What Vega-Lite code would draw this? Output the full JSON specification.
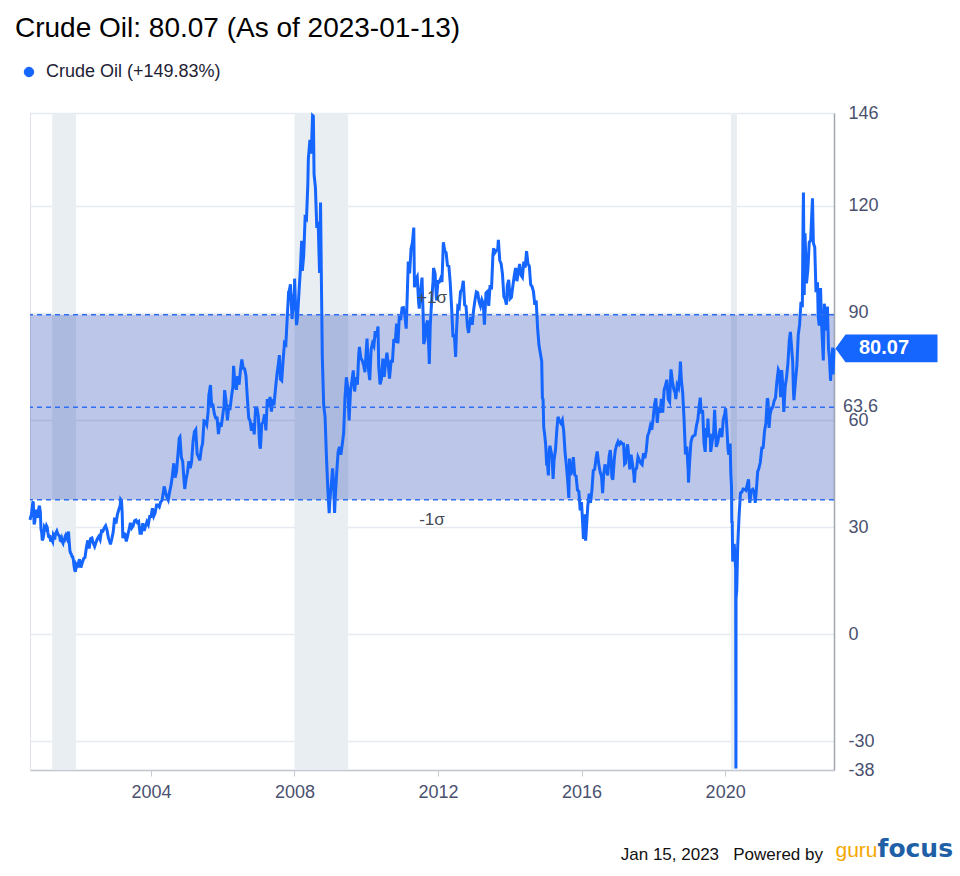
{
  "$schema": "https://vega.github.io/schema/vega-lite/v6.json",
  "width": 804,
  "height": 657,
  "autosize": {"type": "none"},
  "padding": {"left": 30, "top": 113, "right": 126, "bottom": 106},
  "background": "white",
  "title": {
    "text": "Crude Oil: 80.07 (As of 2023-01-13)",
    "anchor": "start",
    "frame": "group",
    "font": "Liberation Sans",
    "fontSize": 28,
    "fontWeight": "normal",
    "color": "#000000",
    "offset": 20,
    "dx": -15
  },
  "config": {
    "font": "Liberation Sans",
    "view": {"stroke": "#dfe3ea", "strokeWidth": 1}
  },
  "datasets": {
    "recessions": [
      {"start": "2001-04-01", "end": "2001-11-30"},
      {"start": "2008-01-01", "end": "2009-06-30"},
      {"start": "2020-03-01", "end": "2020-04-30"}
    ],
    "stats": [
      {"asof": "2023-01-13", "last": 80.07, "lower": 37.7, "mean": 63.6, "upper": 89.5, "meanLabel": "63.6", "lastLabel": "80.07"}
    ],
    "oil": [
      {"date":"2000-08-18","price":32.05},{"date":"2000-08-25","price":32.9},{"date":"2000-09-01","price":33.4},{"date":"2000-09-08","price":35.1},{"date":"2000-09-15","price":36.9},{"date":"2000-09-20","price":37.2},{"date":"2000-09-29","price":30.8},{"date":"2000-10-06","price":31.5},{"date":"2000-10-13","price":34.9},{"date":"2000-10-20","price":33.0},{"date":"2000-10-27","price":33.2},{"date":"2000-11-03","price":32.6},{"date":"2000-11-10","price":34.4},{"date":"2000-11-17","price":35.5},{"date":"2000-11-22","price":36.0},{"date":"2000-12-01","price":34.3},{"date":"2000-12-08","price":29.5},{"date":"2000-12-15","price":28.5},{"date":"2000-12-21","price":26.3},{"date":"2000-12-29","price":26.8},
      {"date":"2001-01-05","price":27.9},{"date":"2001-01-12","price":30.1},{"date":"2001-01-19","price":29.8},{"date":"2001-01-26","price":29.5},{"date":"2001-02-02","price":30.4},{"date":"2001-02-09","price":30.0},{"date":"2001-02-16","price":28.5},{"date":"2001-02-23","price":27.4},{"date":"2001-03-02","price":27.2},{"date":"2001-03-09","price":27.8},{"date":"2001-03-16","price":26.0},{"date":"2001-03-23","price":26.5},{"date":"2001-03-30","price":26.3},{"date":"2001-04-06","price":25.9},{"date":"2001-04-13","price":27.8},{"date":"2001-04-20","price":27.4},{"date":"2001-04-27","price":26.5},{"date":"2001-05-04","price":28.2},{"date":"2001-05-11","price":28.5},{"date":"2001-05-18","price":28.9},{"date":"2001-05-25","price":28.3},{"date":"2001-06-01","price":27.9},{"date":"2001-06-08","price":27.7},{"date":"2001-06-15","price":27.5},{"date":"2001-06-22","price":26.3},{"date":"2001-06-29","price":26.2},{"date":"2001-07-06","price":26.8},{"date":"2001-07-13","price":25.9},{"date":"2001-07-20","price":25.5},{"date":"2001-07-27","price":26.4},{"date":"2001-08-03","price":26.3},{"date":"2001-08-10","price":27.4},{"date":"2001-08-17","price":27.8},{"date":"2001-08-24","price":27.3},{"date":"2001-08-31","price":26.8},{"date":"2001-09-07","price":27.6},{"date":"2001-09-14","price":28.8},{"date":"2001-09-21","price":26.0},{"date":"2001-09-28","price":23.4},{"date":"2001-10-05","price":22.7},{"date":"2001-10-12","price":22.5},{"date":"2001-10-19","price":21.8},{"date":"2001-10-26","price":21.7},{"date":"2001-11-02","price":20.9},{"date":"2001-11-09","price":19.2},{"date":"2001-11-16","price":18.0},{"date":"2001-11-23","price":17.5},{"date":"2001-11-30","price":19.4},{"date":"2001-12-07","price":19.0},{"date":"2001-12-14","price":19.5},{"date":"2001-12-21","price":19.3},{"date":"2001-12-28","price":20.4},
      {"date":"2002-01-04","price":21.0},{"date":"2002-01-18","price":18.7},{"date":"2002-02-01","price":20.0},{"date":"2002-02-15","price":21.2},{"date":"2002-03-01","price":21.6},{"date":"2002-03-15","price":24.3},{"date":"2002-03-29","price":26.3},{"date":"2002-04-12","price":24.0},{"date":"2002-04-26","price":26.8},{"date":"2002-05-10","price":27.0},{"date":"2002-05-24","price":25.5},{"date":"2002-06-07","price":24.6},{"date":"2002-06-21","price":25.8},{"date":"2002-07-05","price":26.8},{"date":"2002-07-19","price":27.4},{"date":"2002-08-02","price":26.5},{"date":"2002-08-16","price":29.0},{"date":"2002-08-30","price":28.9},{"date":"2002-09-13","price":29.8},{"date":"2002-09-27","price":30.4},{"date":"2002-10-11","price":29.2},{"date":"2002-10-25","price":27.0},{"date":"2002-11-08","price":25.9},{"date":"2002-11-15","price":25.2},{"date":"2002-11-29","price":26.8},{"date":"2002-12-13","price":28.7},{"date":"2002-12-27","price":32.7},
      {"date":"2003-01-10","price":31.0},{"date":"2003-01-24","price":33.5},{"date":"2003-02-07","price":34.8},{"date":"2003-02-21","price":36.0},{"date":"2003-02-27","price":37.8},{"date":"2003-03-07","price":37.5},{"date":"2003-03-14","price":34.2},{"date":"2003-03-21","price":26.9},{"date":"2003-03-28","price":28.3},{"date":"2003-04-11","price":28.1},{"date":"2003-04-25","price":26.0},{"date":"2003-05-09","price":27.6},{"date":"2003-05-23","price":29.3},{"date":"2003-06-06","price":31.2},{"date":"2003-06-20","price":29.8},{"date":"2003-07-04","price":30.4},{"date":"2003-07-18","price":31.8},{"date":"2003-08-01","price":32.0},{"date":"2003-08-15","price":31.3},{"date":"2003-08-29","price":31.6},{"date":"2003-09-12","price":28.3},{"date":"2003-09-26","price":28.3},{"date":"2003-10-10","price":31.1},{"date":"2003-10-24","price":29.0},{"date":"2003-11-07","price":30.3},{"date":"2003-11-21","price":31.5},{"date":"2003-12-05","price":30.7},{"date":"2003-12-19","price":33.0},
      {"date":"2004-01-02","price":33.0},{"date":"2004-01-16","price":35.3},{"date":"2004-01-30","price":33.1},{"date":"2004-02-13","price":34.0},{"date":"2004-02-27","price":36.2},{"date":"2004-03-12","price":36.2},{"date":"2004-03-26","price":35.7},{"date":"2004-04-09","price":37.1},{"date":"2004-04-23","price":37.5},{"date":"2004-05-07","price":39.9},{"date":"2004-05-14","price":41.4},{"date":"2004-05-28","price":39.9},{"date":"2004-06-11","price":38.4},{"date":"2004-06-25","price":37.6},{"date":"2004-07-09","price":39.9},{"date":"2004-07-23","price":41.7},{"date":"2004-08-06","price":44.4},{"date":"2004-08-20","price":47.9},{"date":"2004-09-03","price":43.9},{"date":"2004-09-17","price":45.6},{"date":"2004-10-01","price":50.1},{"date":"2004-10-15","price":54.9},{"date":"2004-10-22","price":55.2},{"date":"2004-11-05","price":49.6},{"date":"2004-11-19","price":48.4},{"date":"2004-12-03","price":43.0},{"date":"2004-12-10","price":40.7},{"date":"2004-12-24","price":43.5},
      {"date":"2005-01-07","price":45.4},{"date":"2005-01-21","price":48.5},{"date":"2005-02-04","price":46.5},{"date":"2005-02-18","price":48.4},{"date":"2005-03-04","price":53.8},{"date":"2005-03-18","price":56.7},{"date":"2005-04-01","price":57.3},{"date":"2005-04-15","price":50.5},{"date":"2005-04-29","price":49.7},{"date":"2005-05-13","price":48.7},{"date":"2005-05-27","price":51.9},{"date":"2005-06-10","price":53.5},{"date":"2005-06-24","price":59.8},{"date":"2005-07-08","price":59.6},{"date":"2005-07-22","price":58.7},{"date":"2005-08-05","price":62.3},{"date":"2005-08-12","price":66.9},{"date":"2005-08-29","price":69.8},{"date":"2005-09-09","price":64.1},{"date":"2005-09-23","price":64.2},{"date":"2005-10-07","price":61.8},{"date":"2005-10-21","price":60.6},{"date":"2005-11-04","price":60.6},{"date":"2005-11-18","price":56.1},{"date":"2005-12-02","price":59.3},{"date":"2005-12-16","price":58.1},{"date":"2005-12-30","price":61.0},
      {"date":"2006-01-13","price":63.9},{"date":"2006-01-20","price":68.4},{"date":"2006-02-03","price":65.4},{"date":"2006-02-17","price":59.9},{"date":"2006-03-03","price":63.7},{"date":"2006-03-17","price":63.4},{"date":"2006-03-31","price":66.6},{"date":"2006-04-14","price":69.3},{"date":"2006-04-21","price":75.2},{"date":"2006-05-05","price":70.2},{"date":"2006-05-19","price":68.5},{"date":"2006-06-02","price":72.3},{"date":"2006-06-16","price":69.9},{"date":"2006-06-30","price":74.0},{"date":"2006-07-14","price":77.0},{"date":"2006-07-28","price":74.5},{"date":"2006-08-11","price":74.4},{"date":"2006-08-25","price":72.5},{"date":"2006-09-08","price":66.3},{"date":"2006-09-22","price":60.6},{"date":"2006-10-06","price":59.8},{"date":"2006-10-20","price":57.0},{"date":"2006-11-03","price":59.1},{"date":"2006-11-17","price":56.0},{"date":"2006-12-01","price":63.4},{"date":"2006-12-15","price":63.4},{"date":"2006-12-29","price":61.0},
      {"date":"2007-01-05","price":56.3},{"date":"2007-01-12","price":52.9},{"date":"2007-01-19","price":52.0},{"date":"2007-02-02","price":59.0},{"date":"2007-02-16","price":59.4},{"date":"2007-03-02","price":61.6},{"date":"2007-03-16","price":57.1},{"date":"2007-03-30","price":65.9},{"date":"2007-04-13","price":63.6},{"date":"2007-04-27","price":66.5},{"date":"2007-05-11","price":62.4},{"date":"2007-05-25","price":65.2},{"date":"2007-06-08","price":64.8},{"date":"2007-06-22","price":68.9},{"date":"2007-07-06","price":72.8},{"date":"2007-07-20","price":75.6},{"date":"2007-07-31","price":78.2},{"date":"2007-08-10","price":71.5},{"date":"2007-08-24","price":71.1},{"date":"2007-09-07","price":76.7},{"date":"2007-09-21","price":81.6},{"date":"2007-10-05","price":81.2},{"date":"2007-10-19","price":88.6},{"date":"2007-11-02","price":95.9},{"date":"2007-11-09","price":96.3},{"date":"2007-11-21","price":98.0},{"date":"2007-12-07","price":88.3},{"date":"2007-12-21","price":93.3},{"date":"2007-12-31","price":96.0},
      {"date":"2008-01-02","price":99.6},{"date":"2008-01-11","price":92.7},{"date":"2008-01-22","price":86.6},{"date":"2008-02-01","price":88.9},{"date":"2008-02-15","price":95.5},{"date":"2008-02-29","price":101.8},{"date":"2008-03-14","price":110.2},{"date":"2008-03-21","price":101.8},{"date":"2008-04-04","price":106.2},{"date":"2008-04-18","price":116.7},{"date":"2008-05-02","price":116.3},{"date":"2008-05-16","price":126.3},{"date":"2008-05-21","price":133.2},{"date":"2008-06-06","price":138.5},{"date":"2008-06-20","price":134.6},{"date":"2008-07-03","price":145.3},{"date":"2008-07-11","price":145.1},{"date":"2008-07-18","price":128.9},{"date":"2008-08-01","price":125.1},{"date":"2008-08-15","price":113.8},{"date":"2008-08-29","price":115.5},{"date":"2008-09-12","price":101.2},{"date":"2008-09-22","price":120.9},{"date":"2008-10-03","price":93.9},{"date":"2008-10-10","price":77.7},{"date":"2008-10-24","price":64.2},{"date":"2008-11-07","price":61.0},{"date":"2008-11-21","price":49.9},{"date":"2008-12-05","price":40.8},{"date":"2008-12-19","price":33.9},{"date":"2008-12-26","price":37.7},
      {"date":"2009-01-09","price":41.7},{"date":"2009-01-23","price":46.5},{"date":"2009-02-06","price":40.2},{"date":"2009-02-12","price":34.0},{"date":"2009-02-20","price":38.9},{"date":"2009-03-06","price":45.5},{"date":"2009-03-20","price":51.1},{"date":"2009-04-03","price":52.5},{"date":"2009-04-17","price":50.3},{"date":"2009-05-01","price":53.2},{"date":"2009-05-15","price":56.3},{"date":"2009-05-29","price":66.3},{"date":"2009-06-12","price":72.0},{"date":"2009-06-26","price":69.2},{"date":"2009-07-10","price":59.9},{"date":"2009-07-24","price":68.1},{"date":"2009-08-07","price":70.9},{"date":"2009-08-21","price":73.9},{"date":"2009-09-04","price":68.0},{"date":"2009-09-18","price":72.0},{"date":"2009-10-02","price":69.9},{"date":"2009-10-16","price":78.5},{"date":"2009-10-23","price":80.5},{"date":"2009-11-06","price":77.4},{"date":"2009-11-20","price":76.7},{"date":"2009-12-04","price":75.5},{"date":"2009-12-18","price":73.4},{"date":"2009-12-31","price":79.4},
      {"date":"2010-01-08","price":82.8},{"date":"2010-01-22","price":74.5},{"date":"2010-02-05","price":71.2},{"date":"2010-02-19","price":79.8},{"date":"2010-03-05","price":81.5},{"date":"2010-03-19","price":80.7},{"date":"2010-04-02","price":84.9},{"date":"2010-04-16","price":83.2},{"date":"2010-04-30","price":86.2},{"date":"2010-05-07","price":75.1},{"date":"2010-05-21","price":70.0},{"date":"2010-06-04","price":71.5},{"date":"2010-06-18","price":77.2},{"date":"2010-07-02","price":72.1},{"date":"2010-07-16","price":76.0},{"date":"2010-07-30","price":78.9},{"date":"2010-08-13","price":75.4},{"date":"2010-08-25","price":71.6},{"date":"2010-09-10","price":76.5},{"date":"2010-09-24","price":76.5},{"date":"2010-10-08","price":82.7},{"date":"2010-10-22","price":81.7},{"date":"2010-11-05","price":87.0},{"date":"2010-11-19","price":81.5},{"date":"2010-12-03","price":89.2},{"date":"2010-12-17","price":88.0},{"date":"2010-12-31","price":91.4},
      {"date":"2011-01-14","price":91.5},{"date":"2011-01-28","price":89.3},{"date":"2011-02-11","price":85.6},{"date":"2011-02-25","price":98.0},{"date":"2011-03-04","price":104.4},{"date":"2011-03-18","price":101.1},{"date":"2011-04-01","price":107.9},{"date":"2011-04-15","price":109.7},{"date":"2011-04-29","price":113.9},{"date":"2011-05-06","price":97.2},{"date":"2011-05-20","price":99.5},{"date":"2011-06-03","price":100.2},{"date":"2011-06-17","price":93.0},{"date":"2011-06-24","price":91.2},{"date":"2011-07-08","price":96.2},{"date":"2011-07-22","price":99.9},{"date":"2011-08-05","price":86.9},{"date":"2011-08-08","price":81.3},{"date":"2011-08-19","price":82.3},{"date":"2011-09-02","price":86.5},{"date":"2011-09-16","price":87.9},{"date":"2011-09-30","price":79.2},{"date":"2011-10-04","price":75.7},{"date":"2011-10-14","price":86.8},{"date":"2011-10-28","price":93.3},{"date":"2011-11-11","price":98.9},{"date":"2011-11-16","price":102.6},{"date":"2011-12-02","price":101.0},{"date":"2011-12-16","price":93.5},{"date":"2011-12-30","price":98.8},
      {"date":"2012-01-13","price":98.7},{"date":"2012-01-27","price":99.6},{"date":"2012-02-10","price":98.7},{"date":"2012-02-24","price":109.8},{"date":"2012-03-09","price":107.4},{"date":"2012-03-23","price":106.9},{"date":"2012-04-06","price":103.3},{"date":"2012-04-20","price":103.1},{"date":"2012-05-04","price":98.5},{"date":"2012-05-18","price":91.5},{"date":"2012-06-01","price":83.2},{"date":"2012-06-15","price":84.0},{"date":"2012-06-28","price":77.7},{"date":"2012-07-06","price":84.5},{"date":"2012-07-20","price":91.8},{"date":"2012-08-03","price":91.4},{"date":"2012-08-17","price":96.0},{"date":"2012-08-31","price":96.5},{"date":"2012-09-14","price":99.0},{"date":"2012-09-28","price":92.2},{"date":"2012-10-12","price":91.9},{"date":"2012-10-26","price":86.3},{"date":"2012-11-07","price":84.4},{"date":"2012-11-16","price":86.7},{"date":"2012-11-30","price":88.9},{"date":"2012-12-14","price":86.7},{"date":"2012-12-28","price":90.8},
      {"date":"2013-01-11","price":93.6},{"date":"2013-01-25","price":95.9},{"date":"2013-02-08","price":95.7},{"date":"2013-02-22","price":93.1},{"date":"2013-03-08","price":91.9},{"date":"2013-03-22","price":93.7},{"date":"2013-04-05","price":92.7},{"date":"2013-04-17","price":86.7},{"date":"2013-05-03","price":95.6},{"date":"2013-05-17","price":96.0},{"date":"2013-05-31","price":92.0},{"date":"2013-06-14","price":97.8},{"date":"2013-06-28","price":96.6},{"date":"2013-07-12","price":106.0},{"date":"2013-07-19","price":108.1},{"date":"2013-08-02","price":106.9},{"date":"2013-08-16","price":107.5},{"date":"2013-08-30","price":107.7},{"date":"2013-09-06","price":110.5},{"date":"2013-09-20","price":104.7},{"date":"2013-10-04","price":103.8},{"date":"2013-10-18","price":100.8},{"date":"2013-11-01","price":94.6},{"date":"2013-11-15","price":93.8},{"date":"2013-11-27","price":92.3},{"date":"2013-12-06","price":97.7},{"date":"2013-12-20","price":99.3},
      {"date":"2014-01-03","price":94.0},{"date":"2014-01-17","price":94.4},{"date":"2014-01-31","price":97.5},{"date":"2014-02-14","price":100.3},{"date":"2014-02-28","price":102.6},{"date":"2014-03-14","price":98.9},{"date":"2014-03-28","price":101.7},{"date":"2014-04-11","price":103.7},{"date":"2014-04-25","price":100.6},{"date":"2014-05-09","price":100.0},{"date":"2014-05-23","price":104.4},{"date":"2014-06-06","price":102.7},{"date":"2014-06-20","price":107.3},{"date":"2014-07-04","price":103.8},{"date":"2014-07-18","price":103.1},{"date":"2014-08-01","price":97.9},{"date":"2014-08-15","price":97.4},{"date":"2014-08-29","price":96.0},{"date":"2014-09-12","price":92.3},{"date":"2014-09-26","price":93.5},{"date":"2014-10-10","price":85.8},{"date":"2014-10-24","price":81.0},{"date":"2014-11-07","price":78.7},{"date":"2014-11-21","price":76.5},{"date":"2014-11-28","price":66.2},{"date":"2014-12-05","price":65.8},{"date":"2014-12-12","price":57.8},{"date":"2014-12-19","price":56.5},{"date":"2014-12-31","price":53.3},
      {"date":"2015-01-09","price":48.4},{"date":"2015-01-16","price":48.7},{"date":"2015-01-28","price":44.5},{"date":"2015-02-06","price":51.7},{"date":"2015-02-13","price":52.8},{"date":"2015-03-06","price":49.8},{"date":"2015-03-17","price":43.5},{"date":"2015-03-27","price":48.9},{"date":"2015-04-10","price":51.6},{"date":"2015-04-24","price":57.2},{"date":"2015-05-06","price":60.9},{"date":"2015-05-22","price":59.7},{"date":"2015-06-05","price":59.1},{"date":"2015-06-19","price":60.0},{"date":"2015-07-03","price":56.9},{"date":"2015-07-17","price":50.9},{"date":"2015-07-31","price":47.1},{"date":"2015-08-14","price":42.5},{"date":"2015-08-24","price":38.2},{"date":"2015-08-31","price":49.2},{"date":"2015-09-11","price":44.6},{"date":"2015-09-25","price":45.7},{"date":"2015-10-09","price":49.6},{"date":"2015-10-23","price":44.6},{"date":"2015-11-06","price":44.3},{"date":"2015-11-20","price":40.4},{"date":"2015-12-04","price":40.0},{"date":"2015-12-18","price":34.7},{"date":"2015-12-31","price":37.0},
      {"date":"2016-01-08","price":33.2},{"date":"2016-01-20","price":26.7},{"date":"2016-01-29","price":33.6},{"date":"2016-02-11","price":26.2},{"date":"2016-02-19","price":29.6},{"date":"2016-03-04","price":35.9},{"date":"2016-03-18","price":39.4},{"date":"2016-04-01","price":36.8},{"date":"2016-04-15","price":40.4},{"date":"2016-04-29","price":45.9},{"date":"2016-05-13","price":46.2},{"date":"2016-05-27","price":49.3},{"date":"2016-06-08","price":51.2},{"date":"2016-06-24","price":47.6},{"date":"2016-07-08","price":45.4},{"date":"2016-07-22","price":44.2},{"date":"2016-08-02","price":39.5},{"date":"2016-08-12","price":44.5},{"date":"2016-08-26","price":47.6},{"date":"2016-09-09","price":45.9},{"date":"2016-09-23","price":44.5},{"date":"2016-10-07","price":49.8},{"date":"2016-10-19","price":51.6},{"date":"2016-10-28","price":48.7},{"date":"2016-11-04","price":44.1},{"date":"2016-11-14","price":43.3},{"date":"2016-11-30","price":49.4},{"date":"2016-12-09","price":51.5},{"date":"2016-12-23","price":53.0},
      {"date":"2017-01-06","price":54.0},{"date":"2017-01-20","price":53.2},{"date":"2017-02-03","price":53.8},{"date":"2017-02-17","price":53.4},{"date":"2017-03-03","price":53.3},{"date":"2017-03-14","price":47.7},{"date":"2017-03-24","price":48.0},{"date":"2017-04-07","price":52.2},{"date":"2017-04-13","price":53.2},{"date":"2017-04-28","price":49.3},{"date":"2017-05-05","price":46.2},{"date":"2017-05-19","price":50.3},{"date":"2017-06-02","price":47.7},{"date":"2017-06-16","price":44.7},{"date":"2017-06-21","price":42.5},{"date":"2017-06-30","price":46.0},{"date":"2017-07-14","price":46.5},{"date":"2017-07-28","price":49.7},{"date":"2017-08-11","price":48.8},{"date":"2017-08-25","price":47.9},{"date":"2017-09-08","price":47.5},{"date":"2017-09-22","price":50.7},{"date":"2017-10-06","price":49.3},{"date":"2017-10-20","price":51.5},{"date":"2017-11-03","price":55.6},{"date":"2017-11-17","price":56.6},{"date":"2017-12-01","price":58.4},{"date":"2017-12-15","price":57.3},{"date":"2017-12-29","price":60.4},
      {"date":"2018-01-12","price":64.3},{"date":"2018-01-26","price":66.1},{"date":"2018-02-09","price":59.2},{"date":"2018-02-23","price":63.6},{"date":"2018-03-09","price":62.0},{"date":"2018-03-23","price":65.9},{"date":"2018-04-06","price":62.1},{"date":"2018-04-20","price":68.4},{"date":"2018-05-04","price":69.7},{"date":"2018-05-18","price":71.3},{"date":"2018-06-01","price":65.8},{"date":"2018-06-15","price":65.1},{"date":"2018-06-29","price":74.2},{"date":"2018-07-13","price":71.0},{"date":"2018-07-27","price":68.7},{"date":"2018-08-10","price":67.6},{"date":"2018-08-17","price":65.9},{"date":"2018-08-31","price":69.8},{"date":"2018-09-14","price":69.0},{"date":"2018-09-28","price":73.3},{"date":"2018-10-03","price":76.4},{"date":"2018-10-12","price":71.3},{"date":"2018-10-26","price":67.6},{"date":"2018-11-09","price":60.2},{"date":"2018-11-23","price":50.4},{"date":"2018-12-07","price":52.6},{"date":"2018-12-21","price":45.6},{"date":"2018-12-24","price":42.5},
      {"date":"2019-01-04","price":48.0},{"date":"2019-01-18","price":53.8},{"date":"2019-02-01","price":55.3},{"date":"2019-02-15","price":55.6},{"date":"2019-03-01","price":55.8},{"date":"2019-03-15","price":58.5},{"date":"2019-03-29","price":60.1},{"date":"2019-04-12","price":63.9},{"date":"2019-04-23","price":66.3},{"date":"2019-05-03","price":61.9},{"date":"2019-05-17","price":62.8},{"date":"2019-05-31","price":53.5},{"date":"2019-06-12","price":51.1},{"date":"2019-06-21","price":57.4},{"date":"2019-07-05","price":57.5},{"date":"2019-07-10","price":60.4},{"date":"2019-07-19","price":55.6},{"date":"2019-08-02","price":55.7},{"date":"2019-08-07","price":51.1},{"date":"2019-08-23","price":54.2},{"date":"2019-09-06","price":56.5},{"date":"2019-09-16","price":62.9},{"date":"2019-09-27","price":55.9},{"date":"2019-10-03","price":52.5},{"date":"2019-10-18","price":53.8},{"date":"2019-11-01","price":56.2},{"date":"2019-11-15","price":57.7},{"date":"2019-11-29","price":55.2},{"date":"2019-12-13","price":60.1},{"date":"2019-12-27","price":61.7},
      {"date":"2020-01-06","price":63.3},{"date":"2020-01-17","price":58.5},{"date":"2020-01-31","price":51.6},{"date":"2020-02-07","price":50.3},{"date":"2020-02-21","price":53.4},{"date":"2020-02-28","price":44.8},{"date":"2020-03-06","price":41.3},{"date":"2020-03-09","price":31.1},{"date":"2020-03-13","price":31.7},{"date":"2020-03-18","price":20.4},{"date":"2020-03-27","price":21.5},{"date":"2020-04-02","price":25.3},{"date":"2020-04-09","price":22.8},{"date":"2020-04-17","price":18.3},{"date":"2020-04-20","price":-37.6},{"date":"2020-04-21","price":10.0},{"date":"2020-04-28","price":12.3},{"date":"2020-05-08","price":24.7},{"date":"2020-05-22","price":33.3},{"date":"2020-06-05","price":39.6},{"date":"2020-06-19","price":39.8},{"date":"2020-07-02","price":40.7},{"date":"2020-07-17","price":40.6},{"date":"2020-07-31","price":40.3},{"date":"2020-08-14","price":42.0},{"date":"2020-08-26","price":43.4},{"date":"2020-09-08","price":36.8},{"date":"2020-09-25","price":40.3},{"date":"2020-10-09","price":40.6},{"date":"2020-10-23","price":39.9},{"date":"2020-11-02","price":36.8},{"date":"2020-11-13","price":40.1},{"date":"2020-11-27","price":45.5},{"date":"2020-12-11","price":46.6},{"date":"2020-12-24","price":48.2},
      {"date":"2021-01-08","price":52.2},{"date":"2021-01-22","price":52.3},{"date":"2021-02-05","price":56.9},{"date":"2021-02-19","price":59.2},{"date":"2021-03-05","price":66.1},{"date":"2021-03-12","price":65.6},{"date":"2021-03-23","price":57.8},{"date":"2021-04-02","price":61.5},{"date":"2021-04-16","price":63.1},{"date":"2021-04-30","price":63.6},{"date":"2021-05-14","price":65.4},{"date":"2021-05-28","price":66.3},{"date":"2021-06-11","price":70.9},{"date":"2021-06-25","price":74.1},{"date":"2021-07-06","price":73.4},{"date":"2021-07-19","price":66.4},{"date":"2021-07-30","price":74.0},{"date":"2021-08-13","price":68.4},{"date":"2021-08-20","price":62.3},{"date":"2021-09-03","price":69.3},{"date":"2021-09-17","price":72.0},{"date":"2021-10-01","price":75.9},{"date":"2021-10-15","price":82.3},{"date":"2021-10-26","price":84.7},{"date":"2021-11-05","price":81.3},{"date":"2021-11-19","price":76.1},{"date":"2021-11-26","price":68.2},{"date":"2021-12-01","price":65.6},{"date":"2021-12-17","price":70.9},{"date":"2021-12-31","price":75.2},
      {"date":"2022-01-14","price":83.8},{"date":"2022-01-28","price":86.8},{"date":"2022-02-11","price":93.1},{"date":"2022-02-25","price":91.6},{"date":"2022-03-04","price":115.7},{"date":"2022-03-08","price":123.7},{"date":"2022-03-16","price":95.0},{"date":"2022-03-24","price":112.3},{"date":"2022-04-08","price":98.3},{"date":"2022-04-22","price":102.1},{"date":"2022-05-06","price":109.8},{"date":"2022-05-20","price":110.3},{"date":"2022-06-08","price":122.1},{"date":"2022-06-17","price":109.6},{"date":"2022-07-01","price":108.4},{"date":"2022-07-14","price":95.8},{"date":"2022-07-29","price":98.6},{"date":"2022-08-05","price":89.0},{"date":"2022-08-16","price":86.5},{"date":"2022-08-29","price":97.0},{"date":"2022-09-09","price":86.8},{"date":"2022-09-26","price":76.7},{"date":"2022-10-07","price":92.6},{"date":"2022-10-21","price":85.1},{"date":"2022-11-07","price":91.8},{"date":"2022-11-18","price":80.1},{"date":"2022-11-28","price":77.2},{"date":"2022-12-09","price":71.0},{"date":"2022-12-16","price":74.3},{"date":"2022-12-30","price":80.3},{"date":"2023-01-04","price":72.8},{"date":"2023-01-13","price":80.07}
    ]
  },
  "layer": [
    {
      "data": {"name": "recessions"},
      "mark": {"type": "rect", "color": "#e9eef2"},
      "encoding": {
        "x": {"field": "start", "type": "temporal", "title": null,
              "scale": {"domain": [{"year": 2000, "month": 8, "date": 18, "utc": true}, {"year": 2023, "month": 1, "date": 13, "utc": true}], "nice": false}},
        "x2": {"field": "end"}
      }
    },
    {
      "data": {"name": "stats"},
      "mark": {"type": "rect", "color": "#2041b2", "opacity": 0.3},
      "encoding": {
        "y": {"field": "lower", "type": "quantitative", "title": null, "scale": {"domain": [-38, 146], "nice": false, "zero": false}},
        "y2": {"field": "upper"}
      }
    },
    {
      "data": {"name": "oil"},
      "mark": {"type": "line", "strokeWidth": 3, "interpolate": "linear"},
      "encoding": {
        "x": {"field": "date", "type": "temporal",
              "scale": {"domain": [{"year": 2000, "month": 8, "date": 18, "utc": true}, {"year": 2023, "month": 1, "date": 13, "utc": true}], "nice": false},
              "axis": {"title": null, "format": "%Y", "grid": false,
                       "values": [{"year": 2004, "utc": true}, {"year": 2008, "utc": true}, {"year": 2012, "utc": true}, {"year": 2016, "utc": true}, {"year": 2020, "utc": true}],
                       "domainColor": "#c4c8d0", "domainWidth": 1.5, "tickColor": "#c4c8d0", "tickSize": 6,
                       "labelFontSize": 18, "labelColor": "#4a5170", "labelPadding": 7, "labelFlush": false, "labelOverlap": false}},
        "y": {"field": "price", "type": "quantitative",
              "scale": {"domain": [-38, 146], "nice": false, "zero": false},
              "axis": {"title": null, "orient": "right",
                       "values": [146, 120, 90, 60, 30, 0, -30, -38],
                       "labelExpr": "'' + datum.value",
                       "grid": true, "gridColor": "#e6e9ef", "gridWidth": 1.5,
                       "domainColor": "#a3a7af", "domainWidth": 1.5, "ticks": false,
                       "labelFontSize": 18, "labelColor": "#4a5170", "labelPadding": 14,
                       "labelOverlap": false, "labelFlush": false, "labelBound": false}},
        "color": {"datum": "Crude Oil (+149.83%)", "type": "nominal",
                  "scale": {"range": ["#1565ff"]},
                  "legend": {"orient": "none", "legendX": -10, "legendY": -50, "title": null,
                             "symbolType": "circle", "symbolSize": 90, "symbolFillColor": "#1565ff",
                             "symbolStrokeColor": "#1565ff", "symbolStrokeWidth": 1, "labelLimit": 0,
                             "labelFontSize": 18, "labelColor": "#1e2235", "labelOffset": 8, "padding": 0}}
      }
    },
    {
      "data": {"name": "stats"},
      "mark": {"type": "rule", "color": "#2e6ff2", "strokeWidth": 1.5, "strokeDash": [5, 4]},
      "encoding": {"y": {"field": "upper", "type": "quantitative", "title": null}}
    },
    {
      "data": {"name": "stats"},
      "mark": {"type": "rule", "color": "#2e6ff2", "strokeWidth": 1.5, "strokeDash": [5, 4]},
      "encoding": {"y": {"field": "mean", "type": "quantitative", "title": null}}
    },
    {
      "data": {"name": "stats"},
      "mark": {"type": "rule", "color": "#2e6ff2", "strokeWidth": 1.5, "strokeDash": [5, 4]},
      "encoding": {"y": {"field": "lower", "type": "quantitative", "title": null}}
    },
    {
      "data": {"name": "stats"},
      "mark": {"type": "text", "text": "+1σ", "fontSize": 17, "color": "#444a55", "align": "center", "baseline": "middle", "dy": -17},
      "encoding": {"y": {"field": "upper", "type": "quantitative", "title": null}}
    },
    {
      "data": {"name": "stats"},
      "mark": {"type": "text", "text": "-1σ", "fontSize": 17, "color": "#444a55", "align": "center", "baseline": "middle", "dy": 20},
      "encoding": {"y": {"field": "lower", "type": "quantitative", "title": null}}
    },
    {
      "data": {"name": "stats"},
      "mark": {"type": "text", "fontSize": 18, "color": "#4a5170", "align": "left", "baseline": "middle", "dx": 9},
      "encoding": {
        "x": {"field": "asof", "type": "temporal", "title": null},
        "y": {"field": "mean", "type": "quantitative", "title": null},
        "text": {"field": "meanLabel"}
      }
    },
    {
      "data": {"name": "stats"},
      "mark": {"type": "point", "shape": "M0.03,0L0.23,-0.276L2.07,-0.276L2.07,0.276L0.23,0.276Z", "size": 10000, "filled": true, "fill": "#1565ff", "stroke": null, "opacity": 1},
      "encoding": {
        "x": {"field": "asof", "type": "temporal", "title": null},
        "y": {"field": "last", "type": "quantitative", "title": null}
      }
    },
    {
      "data": {"name": "stats"},
      "mark": {"type": "text", "fontSize": 20, "fontWeight": "bold", "color": "#ffffff", "align": "center", "baseline": "middle", "dx": 50},
      "encoding": {
        "x": {"field": "asof", "type": "temporal", "title": null},
        "y": {"field": "last", "type": "quantitative", "title": null},
        "text": {"field": "lastLabel"}
      }
    },
    {
      "data": {"name": "stats"},
      "mark": {"type": "text", "text": "Jan 15, 2023\u00a0\u00a0\u00a0Powered by", "fontSize": 17, "color": "#111111", "align": "right", "baseline": "alphabetic", "dx": -11},
      "encoding": {
        "x": {"field": "asof", "type": "temporal", "title": null},
        "y": {"datum": -63.2, "type": "quantitative", "title": null}
      }
    },
    {
      "data": {"name": "stats"},
      "mark": {"type": "text", "text": "guru", "font": "Liberation Sans", "fontSize": 21, "color": "#f5a800", "align": "left", "baseline": "alphabetic", "dx": 1.5},
      "encoding": {
        "x": {"field": "asof", "type": "temporal", "title": null},
        "y": {"datum": -62.4, "type": "quantitative", "title": null}
      }
    },
    {
      "data": {"name": "stats"},
      "mark": {"type": "text", "text": "focus", "font": "DejaVu Sans", "fontWeight": "bold", "fontSize": 25, "color": "#1f5fa6", "align": "left", "baseline": "alphabetic", "dx": 43.5},
      "encoding": {
        "x": {"field": "asof", "type": "temporal", "title": null},
        "y": {"datum": -62.4, "type": "quantitative", "title": null}
      }
    }
  ]
}
